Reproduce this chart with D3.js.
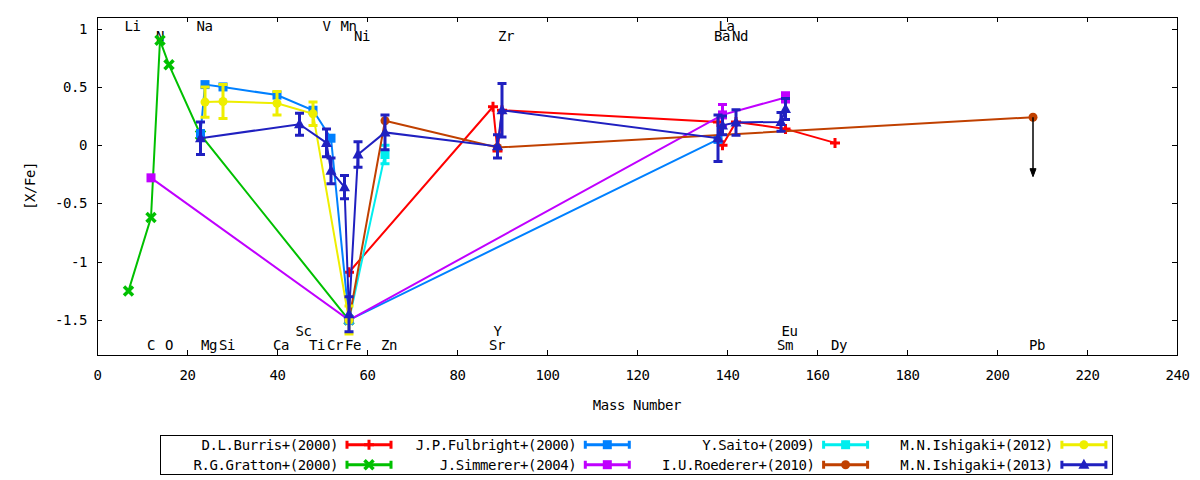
<!DOCTYPE html>
<meta charset="utf-8">
<style>
  body { margin: 0; background: #fff; }
  svg text { font-family: "DejaVu Sans Mono", monospace; font-size: 14px; letter-spacing: -0.4px; fill: #000; }
</style>
<!-- Load d3.js -->
<script src="https://d3js.org/d3.v7.min.js"></script>
<div id="chart"></div>
<script>
// axis ticks
var xTicks = [0, 20, 40, 60, 80, 100, 120, 140, 160, 180, 200, 220, 240];
var yTicks = [-1.5, -1, -0.5, 0, 0.5, 1];

// element names written along the top and bottom of the plot (mass number, label height)
var elemNames = ["Li", "Na", "V", "Mn", "La", "N", "Ni", "Zr", "Ba", "Nd", "Sc", "Y", "Eu",
                 "C", "O", "Mg", "Si", "Ca", "Ti", "Cr", "Fe", "Zn", "Sr", "Sm", "Dy", "Pb"];
var elemMass  = [7, 23, 51, 55, 139, 14, 58, 90, 138, 142, 45, 89, 153,
                 12, 16, 24, 28, 40, 48, 52, 56, 64, 88, 152, 164, 208];
var elemY     = [1.025, 1.025, 1.025, 1.025, 1.025, 0.935, 0.935, 0.935, 0.935, 0.935, -1.595, -1.595, -1.595,
                 -1.715, -1.715, -1.715, -1.715, -1.715, -1.715, -1.715, -1.715, -1.715, -1.715, -1.715, -1.715, -1.715];

// D.L.Burris+(2000)
var burrisMass = [56, 88, 89, 90, 138, 139, 142, 153, 164];
var burrisVal  = [-1.09, 0.33, -0.05, 0.30, 0.20, 0.00, 0.20, 0.14, 0.02];
var burrisErr  = [0, 0, 0, 0, 0, 0, 0, 0, 0];
// R.G.Gratton+(2000)
var grattonMass = [7, 12, 14, 16, 23, 56];
var grattonVal  = [-1.25, -0.62, 0.90, 0.69, 0.09, -1.5];
var grattonErr  = [0, 0, 0, 0, 0, 0];
// J.P.Fulbright+(2000)
var fulbrightMass = [23, 24, 28, 40, 48, 52, 56, 138];
var fulbrightVal  = [0.10, 0.52, 0.50, 0.43, 0.30, 0.06, -1.5, 0.05];
var fulbrightErr  = [0, 0, 0, 0, 0, 0, 0, 0];
// J.Simmerer+(2004)
var simmererMass = [12, 56, 139, 153];
var simmererVal  = [-0.28, -1.5, 0.26, 0.41];
var simmererErr  = [0, 0, 0.09, 0.04];
// Y.Saito+(2009)
var saitoMass = [56, 64];
var saitoVal  = [-1.5, -0.08];
var saitoErr  = [0, 0.08];
// I.U.Roederer+(2010)
var roedererMass  = [56, 64, 89, 208];
var roedererVal   = [-1.5, 0.21, -0.02, 0.24];
var roedererErr   = [0, 0, 0, 0];
var roedererLimit = [null, null, null, -0.27];
// M.N.Ishigaki+(2012)
var ishi12Mass = [24, 28, 40, 48, 56];
var ishi12Val  = [0.37, 0.375, 0.36, 0.27, -1.5];
var ishi12Err  = [0.13, 0.145, 0.10, 0.10, 0.12];
// M.N.Ishigaki+(2013)
var ishi13Mass = [23, 45, 51, 52, 55, 56, 58, 64, 89, 90, 138, 139, 142, 152, 153];
var ishi13Val  = [0.06, 0.18, 0.02, -0.22, -0.36, -1.45, -0.08, 0.11, -0.01, 0.30, 0.06, 0.17, 0.195, 0.20, 0.31];
var ishi13Err  = [0.14, 0.095, 0.12, 0.11, 0.10, 0.15, 0.11, 0.15, 0.10, 0.23, 0.20, 0.08, 0.11, 0.08, 0.09];

var seriesNames   = ["D.L.Burris+(2000)", "R.G.Gratton+(2000)", "J.P.Fulbright+(2000)", "J.Simmerer+(2004)",
                     "Y.Saito+(2009)", "I.U.Roederer+(2010)", "M.N.Ishigaki+(2012)", "M.N.Ishigaki+(2013)"];
var seriesColors  = ["#ff0000", "#00c000", "#0080ff", "#c000ff", "#00eeee", "#c04000", "#eeee00", "#2020c0"];
var seriesMarkers = ["plus", "cross", "square", "square", "square", "circle", "circle", "triangle"];

var seriesData = [
  [burrisMass, burrisVal, burrisErr],
  [grattonMass, grattonVal, grattonErr],
  [fulbrightMass, fulbrightVal, fulbrightErr],
  [simmererMass, simmererVal, simmererErr],
  [saitoMass, saitoVal, saitoErr],
  [roedererMass, roedererVal, roedererErr, roedererLimit],
  [ishi12Mass, ishi12Val, ishi12Err],
  [ishi13Mass, ishi13Val, ishi13Err]
].map(function(s) {
  return s[0].map(function(m, i) {
    return {m: m, v: s[1][i], e: s[2][i], lim: s[3] ? s[3][i] : null};
  });
});

// set the dimensions and margins of the graph
var margin = {top: 17, right: 23, bottom: 125, left: 97},
    width = 1200 - margin.left - margin.right,
    height = 480 - margin.top - margin.bottom;

var svg = d3.select("#chart")
  .append("svg")
    .attr("width", 1200)
    .attr("height", 480);

var g = svg.append("g")
    .attr("transform", "translate(" + margin.left + "," + margin.top + ")");

var x = d3.scaleLinear().domain([0, 240]).range([0, width]);
var y = d3.scaleLinear().domain([-1.8, 1.1]).range([height, 0]);

function fmt(d) { return String(d); }

// axes, ticks pointing inwards and mirrored
var xAxis = g.append("g")
  .attr("transform", "translate(0," + height + ")")
  .call(d3.axisBottom(x).tickValues(xTicks).tickFormat(fmt).tickSizeInner(-5).tickSizeOuter(0));
xAxis.selectAll("text").attr("y", 25).attr("dy", null);

var yAxis = g.append("g")
  .call(d3.axisLeft(y).tickValues(yTicks).tickFormat(fmt).tickSizeInner(-5).tickSizeOuter(0).tickPadding(10));

g.append("g")
  .call(d3.axisTop(x).tickValues(xTicks).tickFormat("").tickSizeInner(-5).tickSizeOuter(0));
g.append("g")
  .attr("transform", "translate(" + width + ",0)")
  .call(d3.axisRight(y).tickValues(yTicks).tickFormat("").tickSizeInner(-5).tickSizeOuter(0));

g.selectAll(".domain").remove();
g.selectAll(".tick line").attr("stroke", "#000").attr("shape-rendering", "crispEdges");
g.selectAll(".tick text").style("font-family", "'DejaVu Sans Mono', monospace").style("font-size", "14px");

g.append("rect")
  .attr("x", 0.5).attr("y", 0.5)
  .attr("width", width).attr("height", height)
  .attr("fill", "none").attr("stroke", "#000")
  .attr("shape-rendering", "crispEdges");

// axis titles
svg.append("text")
  .attr("x", margin.left + width / 2).attr("y", 410)
  .attr("text-anchor", "middle")
  .text("Mass Number");
svg.append("text")
  .attr("transform", "translate(35," + (margin.top + height / 2) + ") rotate(-90)")
  .attr("text-anchor", "middle")
  .text("[X/Fe]");

// element labels (left edge half a character before the mass number)
g.selectAll(".elem")
  .data(elemNames)
  .enter()
  .append("text")
    .attr("class", "elem")
    .attr("x", function(d, i) { return x(elemMass[i]) - 4; })
    .attr("y", function(d, i) { return y(elemY[i]) + 5; })
    .text(function(d) { return d; });

// marker shapes
function marker(sel, type, cx, cy, color) {
  if (type === "plus") {
    sel.append("path")
      .attr("d", "M" + (cx - 5) + "," + cy + "h10M" + cx + "," + (cy - 5) + "v10")
      .attr("stroke", color).attr("stroke-width", 3).attr("fill", "none");
  } else if (type === "cross") {
    sel.append("path")
      .attr("d", "M" + (cx - 4.5) + "," + (cy - 4.5) + "l9,9M" + (cx - 4.5) + "," + (cy + 4.5) + "l9,-9")
      .attr("stroke", color).attr("stroke-width", 3.5).attr("fill", "none");
  } else if (type === "square") {
    sel.append("rect")
      .attr("x", cx - 4.5).attr("y", cy - 4.5)
      .attr("width", 9).attr("height", 9)
      .attr("fill", color);
  } else if (type === "circle") {
    sel.append("circle")
      .attr("cx", cx).attr("cy", cy).attr("r", 4.5)
      .attr("fill", color);
  } else if (type === "triangle") {
    sel.append("path")
      .attr("d", "M" + cx + "," + (cy - 6) + "L" + (cx + 5.5) + "," + (cy + 4) + "L" + (cx - 5.5) + "," + (cy + 4) + "Z")
      .attr("fill", color);
  }
}

var line = d3.line()
  .x(function(d) { return x(d.m); })
  .y(function(d) { return y(d.v); });

seriesData.forEach(function(data, k) {
  var color = seriesColors[k];
  var sg = g.append("g");

  sg.append("path")
    .datum(data)
    .attr("d", line)
    .attr("stroke", color)
    .attr("stroke-width", 2)
    .attr("fill", "none");

  data.forEach(function(d) {
    var cx = x(d.m), cy = y(d.v);
    if (d.e > 0) {
      var y0 = y(d.v - d.e), y1 = y(d.v + d.e);
      sg.append("path")
        .attr("d", "M" + cx + "," + y0 + "V" + y1 +
                   "M" + (cx - 4.5) + "," + y0 + "h9" +
                   "M" + (cx - 4.5) + "," + y1 + "h9")
        .attr("stroke", color).attr("stroke-width", 3).attr("fill", "none");
    }
    marker(sg, seriesMarkers[k], cx, cy, color);
    if (d.lim !== null) {
      // upper limit arrow
      var ya = y(d.lim);
      sg.append("line")
        .attr("x1", cx).attr("y1", cy).attr("x2", cx).attr("y2", ya - 6)
        .attr("stroke", "#000").attr("stroke-width", 1.5);
      sg.append("path")
        .attr("d", "M" + (cx - 3) + "," + (ya - 8) + "L" + cx + "," + ya + "L" + (cx + 3) + "," + (ya - 8) + "Z")
        .attr("fill", "#000").attr("stroke", "#000").attr("stroke-width", 1);
    }
  });
});

// legend, two rows
var legend = svg.append("g");
legend.append("rect")
  .attr("x", 160.5).attr("y", 435.5)
  .attr("width", 952).attr("height", 39)
  .attr("fill", "none").attr("stroke", "#000")
  .attr("shape-rendering", "crispEdges");

seriesNames.forEach(function(name, i) {
  var col = Math.floor(i / 2), row = i % 2;
  var tx = 338 + col * 238.3;
  var ty = 444.7 + row * 20;
  var color = seriesColors[i];
  legend.append("text")
    .attr("x", tx).attr("y", ty + 5)
    .attr("text-anchor", "end")
    .text(name);
  var x0 = tx + 9, x1 = tx + 53;
  legend.append("path")
    .attr("d", "M" + x0 + "," + ty + "H" + x1 +
               "M" + x0 + "," + (ty - 4) + "v8" +
               "M" + x1 + "," + (ty - 4) + "v8")
    .attr("stroke", color).attr("stroke-width", 3).attr("fill", "none");
  marker(legend, seriesMarkers[i], (x0 + x1) / 2, ty, color);
});
</script>
